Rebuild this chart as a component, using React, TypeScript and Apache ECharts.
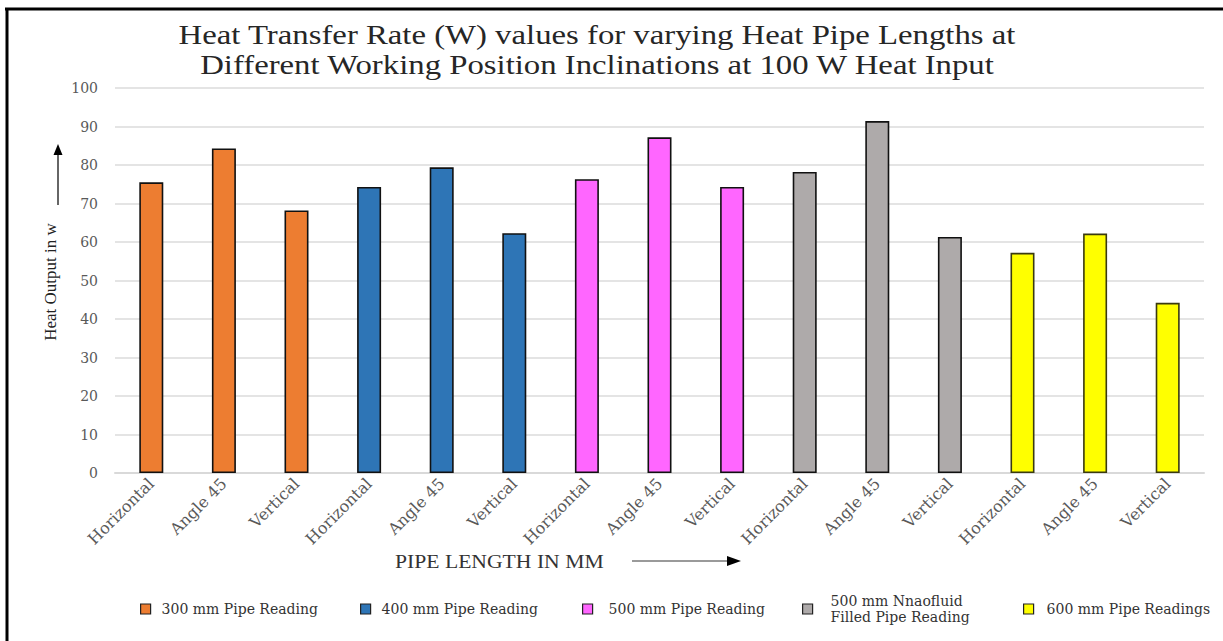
import React, { useEffect, useRef } from "react";
import * as echarts from "echarts";

const titleLines = [
  "Heat Transfer Rate (W) values for varying Heat Pipe Lengths at",
  "Different Working Position Inclinations at 100 W Heat Input",
];
const positions = ["Horizontal", "Angle 45", "Vertical"];
const groups = [
  "300 mm Pipe Reading",
  "400 mm Pipe Reading",
  "500 mm Pipe Reading",
  "500 mm Nnaofluid Filled Pipe Reading",
  "600 mm Pipe Readings",
];
const values300 = [75.5, 84.3, 68.2];
const values400 = [74.3, 79.4, 62.3];
const values500 = [76.3, 87.2, 74.3];
const valuesNano = [78.2, 91.4, 61.3];
const values600 = [57.2, 62.2, 44.2];
const groupValues = [values300, values400, values500, valuesNano, values600];
const colors = ["#ED7D31", "#2E75B6", "#FF66FF", "#AEAAAA", "#FFFF00"];
const yTicks = [0, 10, 20, 30, 40, 50, 60, 70, 80, 90, 100];

const categories: string[] = [];
groups.forEach((g, gi) => positions.forEach((p) => categories.push(p + "|" + gi)));

const legendLeft = [135, 355, 577, 797, 1018];
const legendPad = [6, 6, 11, 13, 8];

export default function App() {
  const ref = useRef<HTMLDivElement>(null);
  useEffect(() => {
    document.body.style.margin = "0";
    if (!ref.current) return;
    const chart = echarts.init(ref.current, undefined, { renderer: "svg" });
    const series = groups.map((g, gi) => ({
      name: g,
      type: "bar",
      stack: "all",
      barWidth: 24,
      itemStyle: { color: colors[gi], borderColor: gi === 4 ? "#3a3a10" : "#111", borderWidth: 1.6 },
      data: categories.map((_, ci) =>
        Math.floor(ci / 3) === gi ? groupValues[gi][ci % 3] : null
      ),
    }));
    const legends = groups.map((g, gi) => ({
      data: [g],
      left: legendLeft[gi],
      top: gi === 3 ? 580 : 596,
      itemWidth: 10,
      itemHeight: 10,
      icon: "rect",
      itemStyle: { borderColor: "#222", borderWidth: 1.2 },
      formatter: (n: string) =>
        n === groups[3] ? "500 mm Nnaofluid\nFilled Pipe Reading" : n,
      textStyle: {
        fontFamily: "DejaVu Serif",
        fontSize: 14,
        color: "#333",
        lineHeight: 16,
        padding: gi === 3 ? [16, 0, 0, legendPad[gi]] : [0, 0, 0, legendPad[gi]],
      },
    }));
    const titleTexts = titleLines.map((t, i) => ({
      type: "text",
      x: 597,
      y: 35 + i * 30,
      scaleX: 1.17,
      style: {
        text: t,
        fontFamily: "Liberation Serif",
        fontSize: 28,
        fill: "#262626",
        align: "center",
        verticalAlign: "middle",
      },
    }));
    chart.setOption({
      animation: false,
      legend: legends,
      grid: { left: 115, right: 19, top: 88, bottom: 168 },
      xAxis: {
        type: "category",
        data: categories,
        axisLine: { lineStyle: { color: "#d9d9d9", width: 2 } },
        axisTick: { show: false },
        axisLabel: {
          rotate: 45,
          interval: 0,
          margin: 8,
          fontFamily: "DejaVu Serif",
          fontSize: 16,
          color: "#595959",
          formatter: (v: string) => v.split("|")[0],
        },
      },
      yAxis: {
        type: "value",
        min: yTicks[0],
        max: yTicks[yTicks.length - 1],
        interval: 10,
        axisLine: { show: false },
        axisTick: { show: false },
        splitLine: { lineStyle: { color: "#e4e4e4", width: 2 } },
        axisLabel: {
          margin: 17,
          fontFamily: "DejaVu Serif",
          fontSize: 14,
          color: "#595959",
        },
      },
      graphic: [
        ...titleTexts,
        { type: "line", shape: { x1: 5, y1: 9, x2: 1223, y2: 9 }, style: { stroke: "#000", lineWidth: 3 } },
        { type: "line", shape: { x1: 7, y1: 8, x2: 7, y2: 641 }, style: { stroke: "#000", lineWidth: 3 } },
        {
          type: "text",
          x: 50,
          y: 282,
          rotation: Math.PI / 2,
          style: {
            text: "Heat Output in w",
            fontFamily: "Liberation Serif",
            fontSize: 17,
            fill: "#222",
            align: "center",
            verticalAlign: "middle",
          },
        },
        { type: "line", shape: { x1: 58, y1: 205, x2: 58, y2: 153 }, style: { stroke: "#333", lineWidth: 1.5 } },
        { type: "polygon", shape: { points: [[58, 144], [53.5, 155], [62.5, 155]] }, style: { fill: "#000" } },
        {
          type: "text",
          x: 395,
          y: 561,
          scaleX: 1.14,
          style: {
            text: "PIPE LENGTH IN MM",
            fontFamily: "Liberation Serif",
            fontSize: 19,
            fill: "#333",
            align: "left",
            verticalAlign: "middle",
          },
        },
        { type: "line", shape: { x1: 632, y1: 561, x2: 728, y2: 561 }, style: { stroke: "#9a9a9a", lineWidth: 2 } },
        { type: "polygon", shape: { points: [[741, 561], [727, 556], [727, 566]] }, style: { fill: "#000" } },
      ],
      series,
    });
    return () => chart.dispose();
  }, []);
  return <div ref={ref} style={{ width: 1223, height: 641 }} />;
}
